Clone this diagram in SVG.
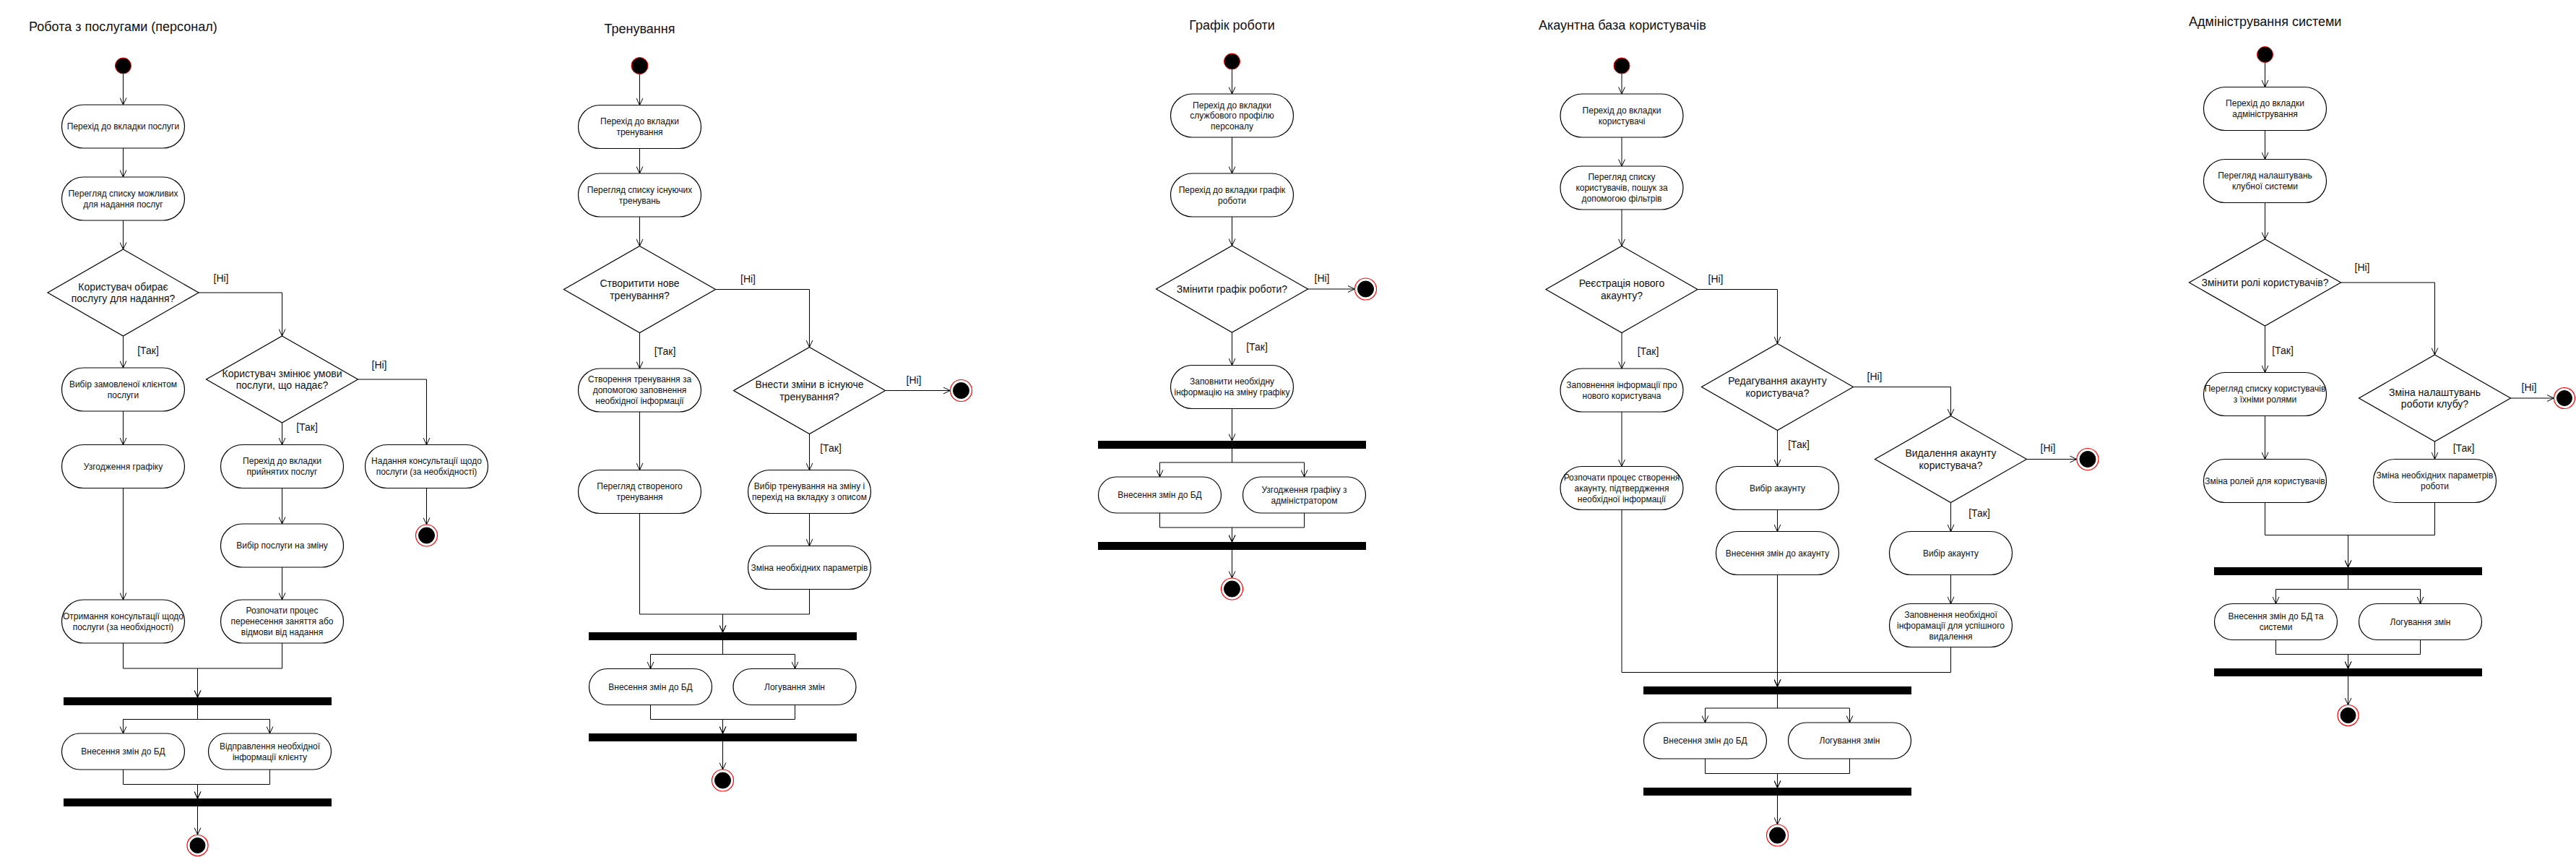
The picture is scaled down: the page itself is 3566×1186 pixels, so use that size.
<svg xmlns="http://www.w3.org/2000/svg" width="3566" height="1186" viewBox="0 0 3566 1186">
<defs>
<marker id="a" viewBox="0 0 10 10" refX="10" refY="5" markerWidth="10" markerHeight="10" orient="auto" markerUnits="userSpaceOnUse"><path d="M0.5,0.6 L10,5 L0.5,9.4" fill="none" stroke="#000" stroke-width="1"/></marker>
<style>
.bx{fill:#fff;stroke:#000;stroke-width:1.2}
.bar{fill:#000}
.st{fill:#000;stroke:#ff0000;stroke-width:1}
.eo{fill:#fff;stroke:#ff0000;stroke-width:1.2}
.ei{fill:#000;stroke:#000}
.ln{fill:none;stroke:#000;stroke-width:1}
.ar{fill:none;stroke:#000;stroke-width:1;marker-end:url(#a)}
text{font-family:"Liberation Sans",Arial,sans-serif;fill:#111}
.t{font-size:12px;text-anchor:middle}
.d{font-size:14px;text-anchor:middle}
.g{font-size:14px;text-anchor:middle}
.ti{font-size:18px}
</style>
</defs>
<rect width="3566" height="1186" fill="#fff"/>

<g id="connectors">
<!-- col1 -->
<path class="ar" d="M170.5,102 V145"/>
<path class="ar" d="M170.5,205 V245"/>
<path class="ar" d="M170.5,305 V345"/>
<path class="ar" d="M275,405 H390.5 V465"/>
<path class="ar" d="M170.5,465 V509"/>
<path class="ar" d="M170.5,569 V615.5"/>
<path class="ar" d="M170.5,675.5 V830"/>
<path class="ar" d="M495.5,525 H590.5 V615.5"/>
<path class="ar" d="M590.5,675.5 V726"/>
<path class="ar" d="M390.5,585 V615.5"/>
<path class="ar" d="M390.5,675.5 V725"/>
<path class="ar" d="M390.5,785 V830"/>
<path class="ar" d="M170.5,890 V925 H273.5 V965"/>
<path class="ar" d="M390.5,890 V925 H273.5 V965"/>
<path class="ar" d="M273.5,976 V995.5 H170.5 V1015"/>
<path class="ar" d="M273.5,976 V995.5 H373.5 V1015"/>
<path class="ar" d="M170.5,1065 V1085.5 H273.5 V1105"/>
<path class="ar" d="M373.5,1065 V1085.5 H273.5 V1105"/>
<path class="ar" d="M273.5,1116 V1155"/>
<!-- col2 -->
<path class="ar" d="M885.5,102.5 V145.5"/>
<path class="ar" d="M885.5,205.5 V240"/>
<path class="ar" d="M885.5,300 V340.5"/>
<path class="ar" d="M990.5,400.5 H1120.5 V480.5"/>
<path class="ar" d="M1225.5,540.5 H1315.5"/>
<path class="ar" d="M885.5,460.5 V510"/>
<path class="ar" d="M885.5,570 V650.5"/>
<path class="ar" d="M1120.5,600.5 V650.5"/>
<path class="ar" d="M1120.5,710.5 V755.5"/>
<path class="ar" d="M885.5,710.5 V850 H1000.5 V875"/>
<path class="ar" d="M1120.5,815.5 V850 H1000.5 V875"/>
<path class="ar" d="M1000.5,886 V905.5 H900.5 V925.5"/>
<path class="ar" d="M1000.5,886 V905.5 H1100.5 V925.5"/>
<path class="ar" d="M900.5,975.5 V995.5 H1000.5 V1015"/>
<path class="ar" d="M1100.5,975.5 V995.5 H1000.5 V1015"/>
<path class="ar" d="M1000.5,1026 V1065"/>
<!-- col3 -->
<path class="ar" d="M1705.5,96 V130"/>
<path class="ar" d="M1705.5,190 V240"/>
<path class="ar" d="M1705.5,300 V340"/>
<path class="ar" d="M1810.5,400 H1875.5"/>
<path class="ar" d="M1705.5,460 V505.5"/>
<path class="ar" d="M1705.5,565.5 V610"/>
<path class="ar" d="M1705.5,621 V640 H1605.5 V660"/>
<path class="ar" d="M1705.5,621 V640 H1805.5 V660"/>
<path class="ar" d="M1605.5,710 V730 H1705.5 V750"/>
<path class="ar" d="M1805.5,710 V730 H1705.5 V750"/>
<path class="ar" d="M1705.5,761 V800"/>
<!-- col4 -->
<path class="ar" d="M2245,102 V130"/>
<path class="ar" d="M2245,190 V230"/>
<path class="ar" d="M2245,290 V340.5"/>
<path class="ar" d="M2350,400.5 H2460.5 V475.5"/>
<path class="ar" d="M2565.5,535.5 H2700.5 V575.5"/>
<path class="ar" d="M2805.5,635.5 H2875"/>
<path class="ar" d="M2245,460.5 V510"/>
<path class="ar" d="M2245,570 V645.5"/>
<path class="ar" d="M2460.5,595.5 V645.5"/>
<path class="ar" d="M2460.5,705.5 V735.5"/>
<path class="ar" d="M2700.5,695.5 V735.5"/>
<path class="ar" d="M2700.5,795.5 V835.5"/>
<path class="ar" d="M2245,705.5 V930.5 H2460.5 V950"/>
<path class="ar" d="M2700.5,895.5 V930.5 H2460.5 V950"/>
<path class="ar" d="M2460.5,795.5 V950"/>
<path class="ar" d="M2460.5,961 V980 H2360.5 V1000"/>
<path class="ar" d="M2460.5,961 V980 H2560.5 V1000"/>
<path class="ar" d="M2360.5,1050 V1070.5 H2460.5 V1090"/>
<path class="ar" d="M2560.5,1050 V1070.5 H2460.5 V1090"/>
<path class="ar" d="M2460.5,1101 V1141"/>
<!-- col5 -->
<path class="ar" d="M3135.5,86.5 V120.5"/>
<path class="ar" d="M3135.5,180.5 V220.5"/>
<path class="ar" d="M3135.5,280.5 V331"/>
<path class="ar" d="M3240.5,391 H3370.5 V491"/>
<path class="ar" d="M3475.5,551 H3535.5"/>
<path class="ar" d="M3135.5,451 V515.5"/>
<path class="ar" d="M3135.5,575.5 V635.5"/>
<path class="ar" d="M3370.5,611 V635.5"/>
<path class="ar" d="M3135.5,695.5 V740.5 H3250.5 V785"/>
<path class="ar" d="M3370.5,695.5 V740.5 H3250.5 V785"/>
<path class="ar" d="M3250.5,796 V815.5 H3150.5 V835.5"/>
<path class="ar" d="M3250.5,796 V815.5 H3350.5 V835.5"/>
<path class="ar" d="M3150.5,885.5 V905.5 H3250.5 V925"/>
<path class="ar" d="M3350.5,885.5 V905.5 H3250.5 V925"/>
<path class="ar" d="M3250.5,936 V975.5"/>
</g>

<g id="labels">
<text class="g" x="306" y="390">[Ні]</text>
<text class="g" x="525" y="510">[Ні]</text>
<text class="g" x="205" y="490">[Так]</text>
<text class="g" x="425" y="596">[Так]</text>
<text class="g" x="1035.5" y="391">[Ні]</text>
<text class="g" x="1265" y="530.5">[Ні]</text>
<text class="g" x="920.5" y="491">[Так]</text>
<text class="g" x="1150" y="625">[Так]</text>
<text class="g" x="1830" y="390">[Ні]</text>
<text class="g" x="1740" y="485">[Так]</text>
<text class="g" x="2375" y="391">[Ні]</text>
<text class="g" x="2595" y="525.5">[Ні]</text>
<text class="g" x="2835" y="625">[Ні]</text>
<text class="g" x="2281.5" y="491">[Так]</text>
<text class="g" x="2490" y="620">[Так]</text>
<text class="g" x="2740" y="715">[Так]</text>
<text class="g" x="3270" y="375">[Ні]</text>
<text class="g" x="3501" y="541">[Ні]</text>
<text class="g" x="3160" y="490">[Так]</text>
<text class="g" x="3410.5" y="625">[Так]</text>
</g>

<g id="titles">
<text class="ti" x="40" y="43">Робота з послугами (персонал)</text>
<text class="ti" x="885.5" y="46" text-anchor="middle">Тренування</text>
<text class="ti" x="1705.5" y="41" text-anchor="middle">Графік роботи</text>
<text class="ti" x="2130" y="41">Акаунтна база користувачів</text>
<text class="ti" x="3030" y="36">Адміністрування системи</text>
</g>

<!-- ===== Column 1 ===== -->
<g id="c1-start"><circle class="st" cx="170.5" cy="91" r="11"/></g>
<g id="c1-b1"><rect class="bx" x="85.5" y="145" width="170" height="60" rx="30"/><text class="t" x="170.5" y="179">Перехід до вкладки послуги</text></g>
<g id="c1-b2"><rect class="bx" x="85.5" y="245" width="170" height="60" rx="30"/><text class="t"><tspan x="170.5" y="271.5">Перегляд списку можливих</tspan><tspan x="170.5" y="286.5">для надання послуг</tspan></text></g>
<g id="c1-d1"><polygon class="bx" points="170.5,345 275,405 170.5,465 66,405"/><text class="d"><tspan x="170.5" y="401.75">Користувач обирає</tspan><tspan x="170.5" y="418.25">послугу для надання?</tspan></text></g>
<g id="c1-b3"><rect class="bx" x="85.5" y="509" width="170" height="60" rx="30"/><text class="t"><tspan x="170.5" y="535.5">Вибір замовленої клієнтом</tspan><tspan x="170.5" y="550.5">послуги</tspan></text></g>
<g id="c1-b4"><rect class="bx" x="85.5" y="615.5" width="170" height="60" rx="30"/><text class="t" x="170.5" y="649.5">Узгодження графіку</text></g>
<g id="c1-b5"><rect class="bx" x="85.5" y="830" width="170" height="60" rx="30"/><text class="t"><tspan x="170.5" y="856.5">Отримання консультації щодо</tspan><tspan x="170.5" y="871.5">послуги (за необхідності)</tspan></text></g>
<g id="c1-d2"><polygon class="bx" points="390.5,465 495.5,525 390.5,585 285.5,525"/><text class="d"><tspan x="390.5" y="521.75">Користувач змінює умови</tspan><tspan x="390.5" y="538.25">послуги, що надає?</tspan></text></g>
<g id="c1-b6"><rect class="bx" x="305.5" y="615.5" width="170" height="60" rx="30"/><text class="t"><tspan x="390.5" y="642">Перехід до вкладки</tspan><tspan x="390.5" y="657">прийнятих послуг</tspan></text></g>
<g id="c1-b7"><rect class="bx" x="305.5" y="725" width="170" height="60" rx="30"/><text class="t" x="390.5" y="759">Вибір послуги на зміну</text></g>
<g id="c1-b8"><rect class="bx" x="305.5" y="830" width="170" height="60" rx="30"/><text class="t"><tspan x="390.5" y="849">Розпочати процес</tspan><tspan x="390.5" y="864">перенесення заняття або</tspan><tspan x="390.5" y="879">відмови від надання</tspan></text></g>
<g id="c1-b9"><rect class="bx" x="505.5" y="615.5" width="170" height="60" rx="30"/><text class="t"><tspan x="590.5" y="642">Надання консультації щодо</tspan><tspan x="590.5" y="657">послуги (за необхідності)</tspan></text></g>
<g id="c1-end1"><circle class="eo" cx="590.5" cy="741" r="15"/><circle class="ei" cx="590.5" cy="741" r="11"/></g>
<g id="c1-bar1"><rect class="bar" x="88" y="965" width="371" height="11"/></g>
<g id="c1-b10"><rect class="bx" x="85.5" y="1015" width="170" height="50" rx="25"/><text class="t" x="170.5" y="1044">Внесення змін до БД</text></g>
<g id="c1-b11"><rect class="bx" x="288.5" y="1015" width="170" height="50" rx="25"/><text class="t"><tspan x="373.5" y="1036.5">Відправлення необхідної</tspan><tspan x="373.5" y="1051.5">інформації клієнту</tspan></text></g>
<g id="c1-bar2"><rect class="bar" x="88" y="1105" width="371" height="11"/></g>
<g id="c1-end2"><circle class="eo" cx="273.5" cy="1170" r="14.5"/><circle class="ei" cx="273.5" cy="1170" r="10.5"/></g>

<!-- ===== Column 2 ===== -->
<g id="c2-start"><circle class="st" cx="885.5" cy="91" r="11.5"/></g>
<g id="c2-b1"><rect class="bx" x="800.5" y="145.5" width="170" height="60" rx="30"/><text class="t"><tspan x="885.5" y="172">Перехід до вкладки</tspan><tspan x="885.5" y="187">тренування</tspan></text></g>
<g id="c2-b2"><rect class="bx" x="800.5" y="240" width="170" height="60" rx="30"/><text class="t"><tspan x="885.5" y="266.5">Перегляд списку існуючих</tspan><tspan x="885.5" y="281.5">тренувань</tspan></text></g>
<g id="c2-d1"><polygon class="bx" points="885.5,340.5 990.5,400.5 885.5,460.5 780.5,400.5"/><text class="d"><tspan x="885.5" y="397.25">Створитити нове</tspan><tspan x="885.5" y="413.75">тренування?</tspan></text></g>
<g id="c2-b3"><rect class="bx" x="800.5" y="510" width="170" height="60" rx="30"/><text class="t"><tspan x="885.5" y="529">Створення тренування за</tspan><tspan x="885.5" y="544">допомогою заповнення</tspan><tspan x="885.5" y="559">необхідної інформації</tspan></text></g>
<g id="c2-b4"><rect class="bx" x="800.5" y="650.5" width="170" height="60" rx="30"/><text class="t"><tspan x="885.5" y="677">Перегляд створеного</tspan><tspan x="885.5" y="692">тренування</tspan></text></g>
<g id="c2-d2"><polygon class="bx" points="1120.5,480.5 1225.5,540.5 1120.5,600.5 1015.5,540.5"/><text class="d"><tspan x="1120.5" y="537.25">Внести зміни в існуюче</tspan><tspan x="1120.5" y="553.75">тренування?</tspan></text></g>
<g id="c2-end1"><circle class="eo" cx="1330.5" cy="540.5" r="15"/><circle class="ei" cx="1330.5" cy="540.5" r="11"/></g>
<g id="c2-b5"><rect class="bx" x="1035.5" y="650.5" width="170" height="60" rx="30"/><text class="t"><tspan x="1120.5" y="677">Вибір тренування на зміну і</tspan><tspan x="1120.5" y="692">перехід на вкладку з описом</tspan></text></g>
<g id="c2-b6"><rect class="bx" x="1035.5" y="755.5" width="170" height="60" rx="30"/><text class="t" x="1120.5" y="789.5">Зміна необхідних параметрів</text></g>
<g id="c2-bar1"><rect class="bar" x="815" y="875" width="371" height="11"/></g>
<g id="c2-b7"><rect class="bx" x="815.5" y="925.5" width="170" height="50" rx="25"/><text class="t" x="900.5" y="954.5">Внесення змін до БД</text></g>
<g id="c2-b8"><rect class="bx" x="1015" y="925.5" width="170" height="50" rx="25"/><text class="t" x="1100" y="954.5">Логування змін</text></g>
<g id="c2-bar2"><rect class="bar" x="815" y="1015" width="371" height="11"/></g>
<g id="c2-end2"><circle class="eo" cx="1000.5" cy="1080" r="15"/><circle class="ei" cx="1000.5" cy="1080" r="11"/></g>

<!-- ===== Column 3 ===== -->
<g id="c3-start"><circle class="st" cx="1705.5" cy="85" r="11"/></g>
<g id="c3-b1"><rect class="bx" x="1620.5" y="130" width="170" height="60" rx="30"/><text class="t"><tspan x="1705.5" y="149.5">Перехід до вкладки</tspan><tspan x="1705.5" y="164">службового профілю</tspan><tspan x="1705.5" y="178.5">персоналу</tspan></text></g>
<g id="c3-b2"><rect class="bx" x="1620.5" y="240" width="170" height="60" rx="30"/><text class="t"><tspan x="1705.5" y="266.5">Перехід до вкладки графік</tspan><tspan x="1705.5" y="281.5">роботи</tspan></text></g>
<g id="c3-d1"><polygon class="bx" points="1705.5,340 1810.5,400 1705.5,460 1600.5,400"/><text class="d" x="1705.5" y="405">Змінити графік роботи?</text></g>
<g id="c3-end1"><circle class="eo" cx="1890.5" cy="400" r="15"/><circle class="ei" cx="1890.5" cy="400" r="11"/></g>
<g id="c3-b3"><rect class="bx" x="1620.5" y="505.5" width="170" height="60" rx="30"/><text class="t"><tspan x="1705.5" y="532">Заповнити необхідну</tspan><tspan x="1705.5" y="547">інформацію на зміну графіку</tspan></text></g>
<g id="c3-bar1"><rect class="bar" x="1520" y="610" width="371" height="11"/></g>
<g id="c3-b4"><rect class="bx" x="1520.5" y="660" width="170" height="50" rx="25"/><text class="t" x="1605.5" y="689">Внесення змін до БД</text></g>
<g id="c3-b5"><rect class="bx" x="1720.5" y="660" width="170" height="50" rx="25"/><text class="t"><tspan x="1805.5" y="681.5">Узгодження графіку з</tspan><tspan x="1805.5" y="696.5">адміністратором</tspan></text></g>
<g id="c3-bar2"><rect class="bar" x="1520" y="750" width="371" height="11"/></g>
<g id="c3-end2"><circle class="eo" cx="1705.5" cy="815" r="15"/><circle class="ei" cx="1705.5" cy="815" r="11"/></g>

<!-- ===== Column 4 ===== -->
<g id="c4-start"><circle class="st" cx="2245" cy="91" r="11"/></g>
<g id="c4-b1"><rect class="bx" x="2160" y="130" width="170" height="60" rx="30"/><text class="t"><tspan x="2245" y="156.5">Перехід до вкладки</tspan><tspan x="2245" y="171.5">користувачі</tspan></text></g>
<g id="c4-b2"><rect class="bx" x="2160" y="230" width="170" height="60" rx="30"/><text class="t"><tspan x="2245" y="249">Перегляд списку</tspan><tspan x="2245" y="264">користувачів, пошук за</tspan><tspan x="2245" y="279">допомогою фільтрів</tspan></text></g>
<g id="c4-d1"><polygon class="bx" points="2245,340.5 2350,400.5 2245,460.5 2140,400.5"/><text class="d"><tspan x="2245" y="397.25">Реєстрація нового</tspan><tspan x="2245" y="413.75">акаунту?</tspan></text></g>
<g id="c4-b3"><rect class="bx" x="2160" y="510" width="170" height="60" rx="30"/><text class="t"><tspan x="2245" y="536.5">Заповнення інформації про</tspan><tspan x="2245" y="551.5">нового користувача</tspan></text></g>
<g id="c4-b4"><rect class="bx" x="2160" y="645.5" width="170" height="60" rx="30"/><text class="t"><tspan x="2245" y="664.5">Розпочати процес створення</tspan><tspan x="2245" y="679.5">акаунту, підтвердження</tspan><tspan x="2245" y="694.5">необхідної інформації</tspan></text></g>
<g id="c4-d2"><polygon class="bx" points="2460.5,475.5 2565.5,535.5 2460.5,595.5 2355.5,535.5"/><text class="d"><tspan x="2460.5" y="532.25">Редагування акаунту</tspan><tspan x="2460.5" y="548.75">користувача?</tspan></text></g>
<g id="c4-b5"><rect class="bx" x="2375.5" y="645.5" width="170" height="60" rx="30"/><text class="t" x="2460.5" y="679.5">Вибір акаунту</text></g>
<g id="c4-b6"><rect class="bx" x="2375.5" y="735.5" width="170" height="60" rx="30"/><text class="t" x="2460.5" y="769.5">Внесення змін до акаунту</text></g>
<g id="c4-d3"><polygon class="bx" points="2700.5,575.5 2805.5,635.5 2700.5,695.5 2595.5,635.5"/><text class="d"><tspan x="2700.5" y="632.25">Видалення акаунту</tspan><tspan x="2700.5" y="648.75">користувача?</tspan></text></g>
<g id="c4-end1"><circle class="eo" cx="2890" cy="635.5" r="15"/><circle class="ei" cx="2890" cy="635.5" r="11"/></g>
<g id="c4-b7"><rect class="bx" x="2615.5" y="735.5" width="170" height="60" rx="30"/><text class="t" x="2700.5" y="769.5">Вибір акаунту</text></g>
<g id="c4-b8"><rect class="bx" x="2615.5" y="835.5" width="170" height="60" rx="30"/><text class="t"><tspan x="2700.5" y="854.5">Заповнення необхідної</tspan><tspan x="2700.5" y="869.5">інфорамації для успішного</tspan><tspan x="2700.5" y="884.5">видалення</tspan></text></g>
<g id="c4-bar1"><rect class="bar" x="2275" y="950" width="371" height="11"/></g>
<g id="c4-b9"><rect class="bx" x="2275.5" y="1000" width="170" height="50" rx="25"/><text class="t" x="2360.5" y="1029">Внесення змін до БД</text></g>
<g id="c4-b10"><rect class="bx" x="2475.5" y="1000" width="170" height="50" rx="25"/><text class="t" x="2560.5" y="1029">Логування змін</text></g>
<g id="c4-bar2"><rect class="bar" x="2275" y="1090" width="371" height="11"/></g>
<g id="c4-end2"><circle class="eo" cx="2460.5" cy="1156" r="15"/><circle class="ei" cx="2460.5" cy="1156" r="11"/></g>

<!-- ===== Column 5 ===== -->
<g id="c5-start"><circle class="st" cx="3135.5" cy="75.5" r="11"/></g>
<g id="c5-b1"><rect class="bx" x="3050.5" y="120.5" width="170" height="60" rx="30"/><text class="t"><tspan x="3135.5" y="147">Перехід до вкладки</tspan><tspan x="3135.5" y="162">адміністрування</tspan></text></g>
<g id="c5-b2"><rect class="bx" x="3050.5" y="220.5" width="170" height="60" rx="30"/><text class="t"><tspan x="3135.5" y="247">Перегляд налаштувань</tspan><tspan x="3135.5" y="262">клубної системи</tspan></text></g>
<g id="c5-d1"><polygon class="bx" points="3135.5,331 3240.5,391 3135.5,451 3030.5,391"/><text class="d" x="3135.5" y="396">Змінити ролі користувачів?</text></g>
<g id="c5-b3"><rect class="bx" x="3050.5" y="515.5" width="170" height="60" rx="30"/><text class="t"><tspan x="3135.5" y="542">Перегляд списку користувачів</tspan><tspan x="3135.5" y="557">з їхніми ролями</tspan></text></g>
<g id="c5-b4"><rect class="bx" x="3050.5" y="635.5" width="170" height="60" rx="30"/><text class="t" x="3135.5" y="669.5">Зміна ролей для користувачів</text></g>
<g id="c5-d2"><polygon class="bx" points="3370.5,491 3475.5,551 3370.5,611 3265.5,551"/><text class="d"><tspan x="3370.5" y="547.75">Зміна налаштувань</tspan><tspan x="3370.5" y="564.25">роботи клубу?</tspan></text></g>
<g id="c5-end1"><circle class="eo" cx="3550" cy="551" r="14.5"/><circle class="ei" cx="3550" cy="551" r="10.5"/></g>
<g id="c5-b5"><rect class="bx" x="3285.5" y="635.5" width="170" height="60" rx="30"/><text class="t"><tspan x="3370.5" y="662">Зміна необхідних параметрів</tspan><tspan x="3370.5" y="677">роботи</tspan></text></g>
<g id="c5-bar1"><rect class="bar" x="3065" y="785" width="371" height="11"/></g>
<g id="c5-b6"><rect class="bx" x="3065.5" y="835.5" width="170" height="50" rx="25"/><text class="t"><tspan x="3150.5" y="857">Внесення змін до БД та</tspan><tspan x="3150.5" y="872">системи</tspan></text></g>
<g id="c5-b7"><rect class="bx" x="3265.5" y="835.5" width="170" height="50" rx="25"/><text class="t" x="3350.5" y="864.5">Логування змін</text></g>
<g id="c5-bar2"><rect class="bar" x="3065" y="925" width="371" height="11"/></g>
<g id="c5-end2"><circle class="eo" cx="3250.5" cy="990" r="14.5"/><circle class="ei" cx="3250.5" cy="990" r="10.5"/></g>
</svg>
